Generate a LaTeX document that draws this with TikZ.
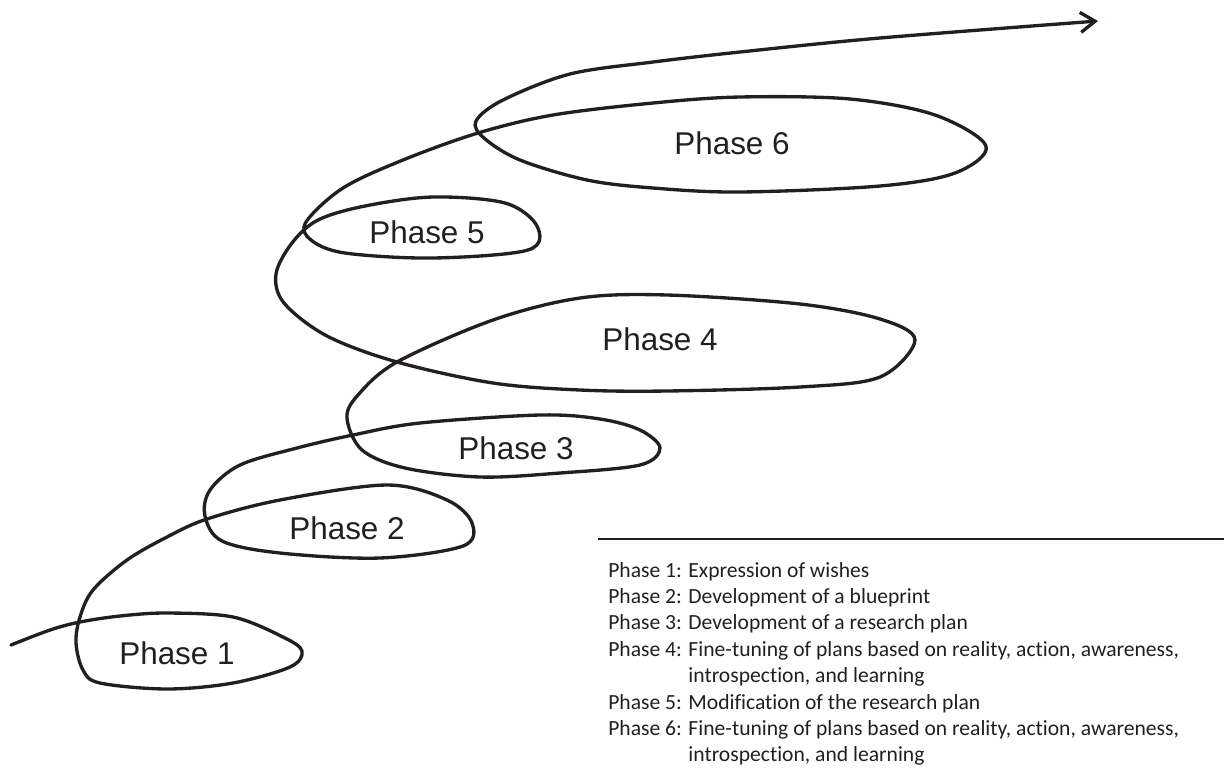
\documentclass[tikz,border=0pt]{standalone}
\usepackage{fontspec}
\setmainfont{Liberation Sans}
\newfontfamily\keyfont[Ligatures=NoCommon]{Carlito}
\usetikzlibrary{arrows.meta}
\definecolor{ink}{RGB}{35,31,32}
\tikzset{spiral/.style={line width=2.5pt, draw=ink, line cap=round, line join=round}}
\tikzset{phase/.style={font=\fontsize{23.6}{28}\selectfont, text=ink, inner sep=0pt}}
\tikzset{keyrule/.style={line width=1pt, draw=ink}}

\begin{document}
\begin{tikzpicture}[x=0.75pt,y=-0.75pt]
    \useasboundingbox (0,0) rectangle (1224,776);

    % one continuous line, looping once per phase
    \draw[spiral,-{Straight Barb[length=11pt,width=15pt]}] plot[smooth, tension=0.55] coordinates {
        (11,645) (50,630) (80,622) (120,616) (167,613) (233,617) (283,637) (302,651)
        (290,667) (233,683) (167,689) (100,683) (83,670) (76,643) (80,617) (93,590)
        (127,560) (167,537) (207,519) (280,500) (387,485) (447,500) (472,523)
        (463,546) (380,558) (280,553) (222,541) (205,516) (210,490) (240,465)
        (297,448) (353,435) (420,423) (540,415) (600,419) (640,430) (660,448)
        (640,465) (560,473) (480,477) (405,468) (362,450) (347,418) (358,395)
        (397,362) (493,320) (580,298) (667,295) (800,304) (880,319) (915,340)
        (880,377) (800,387) (667,391) (580,390) (493,383) (397,362) (327,336)
        (284,303) (276,274) (292,243) (318,220) (365,206) (433,197) (505,203)
        (537,226) (528,250) (433,258) (345,253) (311,240) (306,222) (343,188)
        (403,160) (478,133) (553,115) (653,103) (740,97) (850,99) (935,115)
        (986,146) (955,173) (880,186) (740,192) (653,188) (587,180) (520,160)
        (484,138) (476,121) (503,100) (570,74) (653,62) (740,52) (880,38) (1098,21)
    };

    \node[phase] at (177,653) (p1){Phase 1};
    \node[phase] at (347,528) (p2){Phase 2};
    \node[phase] at (516,448) (p3){Phase 3};
    \node[phase] at (660,339) (p4){Phase 4};
    \node[phase] at (427,232) (p5){Phase 5};
    \node[phase] at (732,143) (p6){Phase 6};

    % key to the phases
    \draw[keyrule] (598,539) -- (1224,539);
    \node[anchor=base west, inner sep=0pt, text=ink, font=\keyfont\fontsize{16.2}{19.8}\selectfont] at (608,577) (key){%
        \begin{tabular}[t]{@{}l@{ }l@{}}
        Phase 1: & Expression of wishes\\
        Phase 2: & Development of a blueprint\\
        Phase 3: & Development of a research plan\\
        Phase 4: & Fine-tuning of plans based on reality, action, awareness,\\
                 & introspection, and learning\\
        Phase 5: & Modification of the research plan\\
        Phase 6: & Fine-tuning of plans based on reality, action, awareness,\\
                 & introspection, and learning
        \end{tabular}};
\end{tikzpicture}
\end{document}
